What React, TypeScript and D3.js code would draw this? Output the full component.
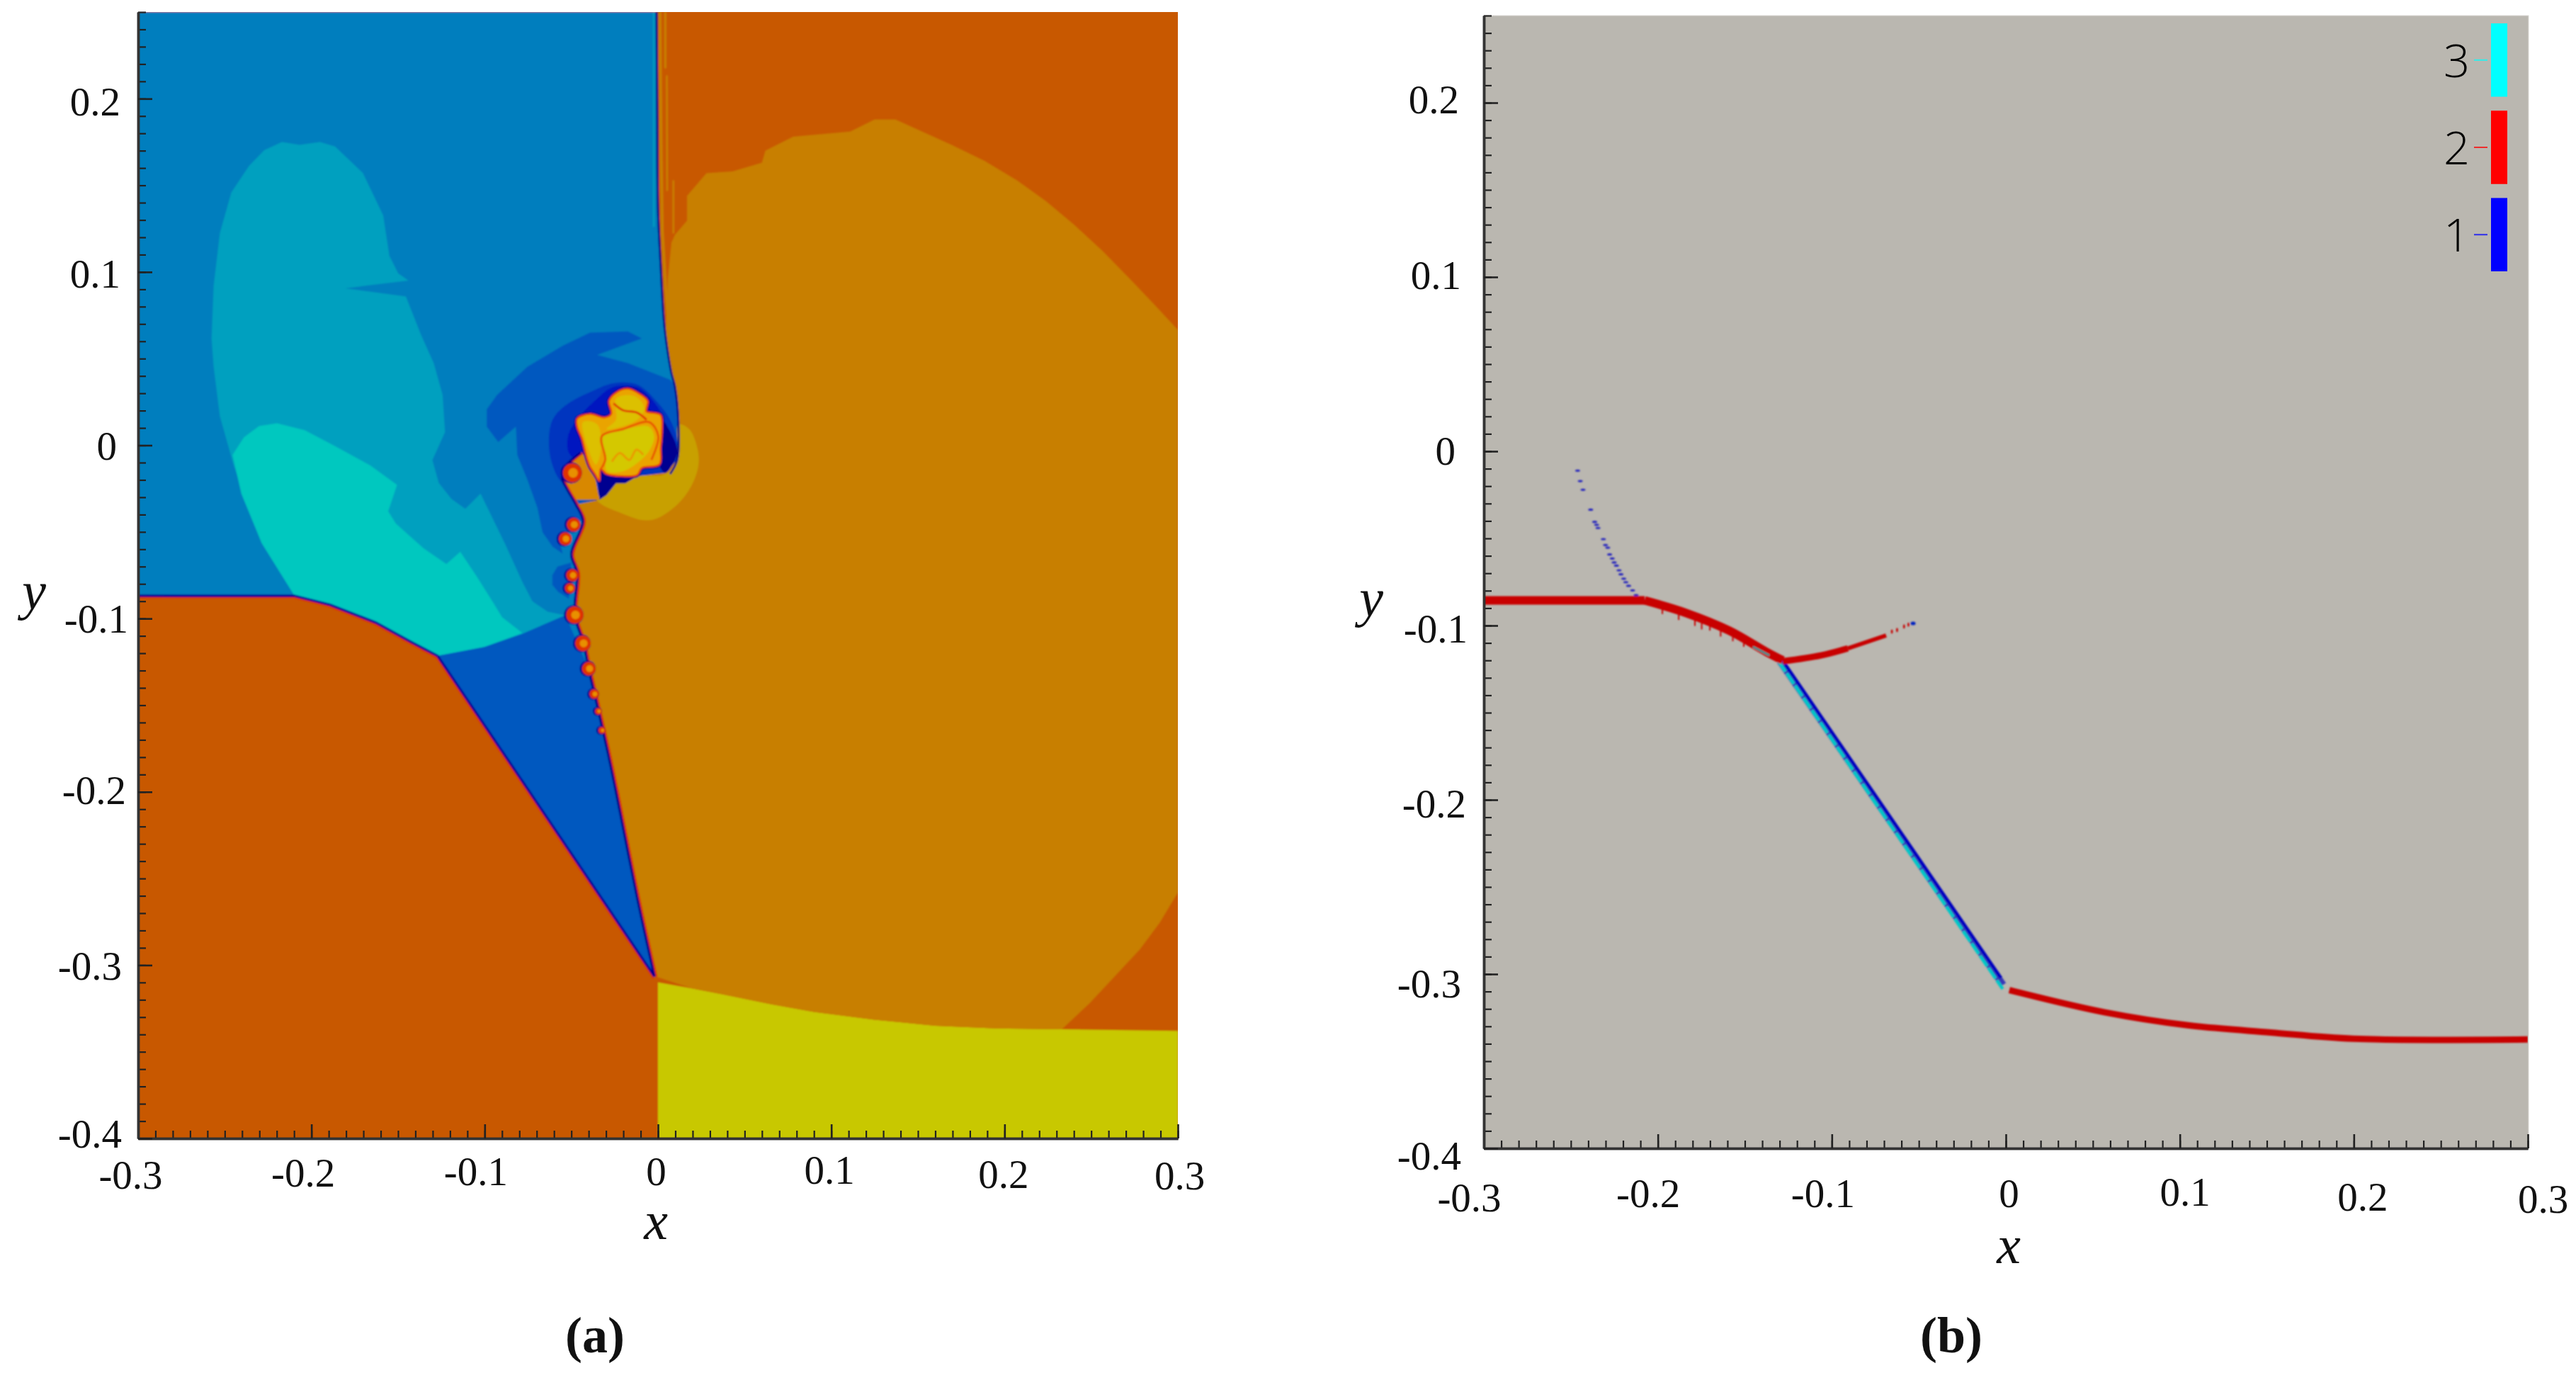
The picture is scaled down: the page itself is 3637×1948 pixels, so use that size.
// App.tsx - two panel shock interaction figure: (a) flow contours, (b) wave classification
import React, { useEffect, useRef } from 'react';
import * as d3 from 'd3';

type Pt = [number, number];

const xTicks = [-0.3, -0.2, -0.1, 0, 0.1, 0.2, 0.3];
const yTicks = [-0.4, -0.3, -0.2, -0.1, 0, 0.1, 0.2];
const xMinor = d3.range(-30, 31).map(d => d / 100);
const yMinor = d3.range(-40, 26).map(d => d / 100);

// panel (a) contour regions, in x/y data units
const shockLine: Pt[] = [[-0.0008, 0.25], [-0.0004, 0.19], [0, 0.137], [0.0016, 0.103], [0.0033, 0.0732], [0.0045, 0.062], [0.0077, 0.0419], [0.0098, 0.0338], [0.0118, 0.012], [0.0111, -0.0084], [0.007, -0.0166]];
const incidentCurve: Pt[] = [[-0.2097, -0.0869], [-0.1893, -0.092], [-0.163, -0.1022], [-0.1426, -0.1134], [-0.1272, -0.1215]];
const bowCurve: Pt[] = [[-0.1272, -0.1215], [-0.1002, -0.1164], [-0.0783, -0.1088], [-0.0535, -0.0981]];
const reflectedCurve: Pt[] = [[0, -0.31], [0.02, -0.3135], [0.043, -0.318], [0.065, -0.3225], [0.09, -0.327], [0.125, -0.3315], [0.16, -0.335], [0.195, -0.3365], [0.233, -0.337], [0.3, -0.338]];

const blueRegion: Pt[] = [[-0.3, 0.25], ...shockLine, [0, -0.2], [-0.3, -0.2]];
const tealRegion: Pt[] = [[-0.2576, 0.0615], [-0.2564, 0.092], [-0.2528, 0.1225], [-0.2462, 0.1459], [-0.236, 0.1612], [-0.2272, 0.1703], [-0.217, 0.175], [-0.2068, 0.1734], [-0.1951, 0.175], [-0.1864, 0.1724], [-0.1703, 0.1571], [-0.1586, 0.1327], [-0.155, 0.1093], [-0.1499, 0.0992], [-0.144, 0.0951], [-0.1805, 0.0906], [-0.1455, 0.0859], [-0.1367, 0.0636], [-0.1294, 0.0473], [-0.1243, 0.029], [-0.1229, 0.0076], [-0.1302, -0.0086], [-0.1265, -0.0218], [-0.1192, -0.031], [-0.1112, -0.0367], [-0.1024, -0.0279], [-0.0885, -0.0564], [-0.0783, -0.0788], [-0.0725, -0.09], [-0.0637, -0.0961], [-0.0535, -0.0981], [-0.0783, -0.1088], [-0.1002, -0.1164], [-0.1272, -0.1215], [-0.1426, -0.1134], [-0.163, -0.1022], [-0.1893, -0.092], [-0.2097, -0.0869], [-0.2287, -0.0564], [-0.2448, -0.0117], [-0.2528, 0.0168], [-0.2564, 0.0453]];
const cyanRegion: Pt[] = [[-0.2455, -0.0056], [-0.2389, 0.0046], [-0.2302, 0.0111], [-0.2199, 0.0127], [-0.2039, 0.0087], [-0.1864, -0.0005], [-0.1659, -0.0117], [-0.1506, -0.0229], [-0.1557, -0.0381], [-0.1513, -0.0452], [-0.1353, -0.0595], [-0.1221, -0.0686], [-0.1141, -0.0615], [-0.1046, -0.0757], [-0.0944, -0.092], [-0.09, -0.0992], [-0.0783, -0.1083], [-0.1002, -0.1164], [-0.1272, -0.1215], [-0.1426, -0.1134], [-0.163, -0.1022], [-0.1893, -0.092], [-0.2097, -0.0869], [-0.2287, -0.0564], [-0.2404, -0.028]];
const swirlRegion: Pt[] = [[-0.055, 0.0575], [-0.0392, 0.065], [-0.0174, 0.0657], [-0.0093, 0.0616], [-0.0351, 0.0521], [-0.0174, 0.0474], [0.007, 0.0378], [0.0104, 0.0338], [0.0118, 0.012], [0.0118, -0.0084], [0.007, -0.0166], [-0.0338, -0.0329], [-0.046, -0.0356], [-0.0433, -0.0424], [-0.0569, -0.0546], [-0.055, -0.0625], [-0.0608, -0.0585], [-0.0666, -0.0503], [-0.0696, -0.0361], [-0.0754, -0.0198], [-0.0812, -0.0056], [-0.082, 0.0107], [-0.0922, 0.0019], [-0.0988, 0.0107], [-0.0988, 0.0208], [-0.0929, 0.029], [-0.0754, 0.0453]];
const swirlLower: Pt[] = [[-0.061, -0.075], [-0.058, -0.07], [-0.05, -0.0676], [-0.0514, -0.0886], [-0.0576, -0.0846], [-0.061, -0.0805]];
const deepRing: Pt[] = [[-0.063, 0.0025], [-0.0608, 0.0147], [-0.0535, 0.0229], [-0.0363, 0.032], [-0.0256, 0.0358], [-0.012, 0.0351], [-0.001, 0.0256], [0.007, 0.0147], [0.0111, 0.0025], [0.0104, -0.0084], [0.0064, -0.0166], [-0.0324, -0.0329], [-0.055, -0.0218], [-0.0608, -0.0117]];
const haloRing: Pt[] = [[-0.0469, 0.0147], [-0.052, 0.0046], [-0.0513, -0.0045], [-0.0447, -0.0096], [-0.0412, -0.007], [-0.03, 0.005], [-0.0202, 0.02], [-0.0106, 0.02], [0.0016, 0.0174], [0.0016, 0.0188], [-0.0052, 0.0283], [-0.012, 0.0335], [-0.0256, 0.0337], [-0.036, 0.026]];
const wedgeRegion: Pt[] = [...bowCurve, [-0.04, -0.129], [-0.002, -0.3066], [-0.1, -0.2]];
const lowerLeft: Pt[] = [[-0.3, -0.0868], ...incidentCurve, [-0.002, -0.3066], [0, -0.31], [0, -0.4], [-0.3, -0.4]];
const yellowRegion: Pt[] = [...reflectedCurve, [0.3, -0.4], [0, -0.4]];
const amberRegion: Pt[] = [[0.0168, 0.1439], [0.028, 0.157], [0.043, 0.158], [0.06, 0.163], [0.062, 0.17], [0.078, 0.178], [0.111, 0.181], [0.125, 0.188], [0.137, 0.188], [0.17, 0.173], [0.1885, 0.164], [0.2072, 0.1528], [0.2236, 0.1411], [0.24, 0.1274], [0.2564, 0.1122], [0.2729, 0.0954], [0.2869, 0.0807], [0.3, 0.0665], [0.3, -0.258], [0.2895, -0.2755], [0.278, -0.291], [0.264, -0.306], [0.249, -0.322], [0.233, -0.337], [0.195, -0.3365], [0.16, -0.335], [0.125, -0.3315], [0.09, -0.327], [0.065, -0.3225], [0.043, -0.318], [0.02, -0.3135], [0, -0.307], [-0.002, -0.3066], [-0.012, -0.261], [-0.024, -0.201], [-0.029, -0.177], [-0.036, -0.146], [-0.04, -0.129], [-0.043, -0.114], [-0.048, -0.098], [-0.0467, -0.0737], [-0.0467, -0.0682], [-0.05, -0.0628], [-0.0433, -0.0438], [-0.0474, -0.0342], [-0.0338, -0.0315], [-0.012, -0.0179], [0.0043, -0.0159], [0.0111, -0.0084], [0.0118, 0.012], [0.0098, 0.0338], [0.0077, 0.0419], [0.0045, 0.065], [0.0057, 0.0965], [0.0078, 0.1169], [0.0098, 0.1214], [0.0168, 0.1296]];
const crescent: Pt[] = [[0.0118, 0.012], [0.018, 0.0093], [0.0227, -0.0016], [0.0234, -0.0111], [0.0193, -0.0234], [0.0111, -0.0342], [-0.0011, -0.0424], [-0.0093, -0.0431], [-0.0215, -0.039], [-0.0324, -0.0342], [-0.0351, -0.0315], [-0.0256, -0.022], [-0.012, -0.0179], [0.0043, -0.0166], [0.0111, -0.0084]];
const connector: Pt[] = [[-0.0446, -0.0043], [-0.0412, -0.007], [-0.0365, -0.0166], [-0.0338, -0.0315], [-0.0474, -0.0315], [-0.0528, -0.0247], [-0.0552, -0.0193], [-0.0535, -0.0125]];
const blobOuter: Pt[] = [[-0.0467, 0.0154], [-0.0392, 0.0181], [-0.031, 0.0161], [-0.027, 0.0181], [-0.0283, 0.0256], [-0.0242, 0.0304], [-0.0174, 0.0327], [-0.0106, 0.0297], [-0.0059, 0.0256], [-0.0066, 0.0195], [-0.0032, 0.0188], [0.0016, 0.0174], [0.0023, 0.0079], [0.0016, -0.0016], [0.0009, -0.0111], [-0.0093, -0.0132], [-0.012, -0.0172], [-0.0202, -0.0179], [-0.0297, -0.0166], [-0.0331, -0.0138], [-0.0338, -0.0206], [-0.0365, -0.0166], [-0.0392, -0.0125], [-0.0412, -0.007], [-0.044, 0.0038], [-0.0467, 0.0106]];
const blobCore: Pt[] = [[-0.0315, 0.0072], [-0.0202, 0.009], [-0.0056, 0.0108], [-0.0022, 0.0052], [-0.0052, -0.0035], [-0.011, -0.0095], [-0.0202, -0.015], [-0.0293, -0.015], [-0.0307, -0.007], [-0.0334, 0.0011]];
const blobTop: Pt[] = [[-0.0242, 0.027], [-0.0134, 0.0283], [-0.0079, 0.0215], [-0.012, 0.0147], [-0.0215, 0.0106], [-0.0297, 0.0093], [-0.0242, 0.0147]];
const blobLeft: Pt[] = [[-0.0433, 0.0134], [-0.035, 0.012], [-0.033, -0.003], [-0.0358, -0.0111], [-0.0399, -0.003]];
const darkPatch: Pt[] = [[-0.0338, -0.0315], [-0.0351, -0.0138], [-0.0297, -0.0166], [-0.012, -0.0179], [-0.0188, -0.022], [-0.0242, -0.022], [-0.0297, -0.0288]];
const darkCrescent: Pt[] = [[0.0016, 0.0161], [0.007, 0.008], [0.0111, -0.003], [0.0084, -0.0111], [0.0043, -0.0159], [0.0009, -0.0118], [0.0023, 0.0079]];
const blobSquiggle: Pt[] = [[-0.0331, -0.0138], [-0.0304, -0.0084], [-0.0324, 0.0052], [-0.0202, 0.0093], [-0.0052, 0.0134], [0.0002, 0.0052], [-0.0038, -0.0084]];
const blobSquiggle2: Pt[] = [[-0.0256, 0.0242], [-0.0202, 0.0202], [-0.012, 0.0188], [-0.0066, 0.0147]];
const blobSquiggle3: Pt[] = [[-0.0266, -0.0095], [-0.022, -0.0045], [-0.0165, -0.0085], [-0.0125, -0.0025], [-0.0085, -0.0055]];
const frontLine: Pt[] = [[-0.3, -0.0868], ...incidentCurve, [-0.002, -0.3066]];
const slipLine: Pt[] = [[-0.002, -0.3066], [-0.012, -0.261], [-0.024, -0.201], [-0.029, -0.177], [-0.036, -0.146], [-0.04, -0.129], [-0.043, -0.114], [-0.048, -0.098], [-0.0467, -0.0737], [-0.05, -0.0628], [-0.0433, -0.0438], [-0.0474, -0.0342], [-0.0528, -0.0247], [-0.0552, -0.0193], [-0.0535, -0.0125], [-0.0446, -0.0043]];
// thin amber and teal streaks beside the shock near the top edge
const amberStreakA: Pt[] = [[0.0011, 0.25], [0.0018, 0.1713], [0.0025, 0.1235], [0.0045, 0.0895], [0.0065, 0.065]];
const amberStreakB: Pt[] = [[0.0042, 0.25], [0.0042, 0.2175]];
const amberStreakC: Pt[] = [[0.0051, 0.2134], [0.0053, 0.1468]];
const amberStreakD: Pt[] = [[0.0089, 0.1529], [0.0089, 0.1222]];
const tealStreak: Pt[] = [[-0.0024, 0.25], [-0.0024, 0.126]];
const vortexX = [-0.0535, -0.0487, -0.0494, -0.0508, -0.048, -0.0433, -0.0399, -0.0368, -0.0344, -0.0324, -0.0494];
const vortexY = [-0.054, -0.0458, -0.075, -0.0825, -0.0979, -0.1143, -0.1289, -0.1435, -0.1535, -0.1645, -0.0159];
const vortexR = [0.0038, 0.004, 0.0036, 0.003, 0.005, 0.0045, 0.004, 0.0028, 0.002, 0.002, 0.0055];

// panel (b) classified wave fronts
const redFlat: Pt[] = [[-0.3, -0.0856], [-0.2076, -0.0856]];
const redCurve: Pt[] = [[-0.2076, -0.0856], [-0.184, -0.0927], [-0.159, -0.1029], [-0.1376, -0.1151], [-0.1282, -0.12]];
const redBranch: Pt[] = [[-0.1282, -0.1205], [-0.1062, -0.1171], [-0.0908, -0.1131]];
const redBranchThin: Pt[] = [[-0.0908, -0.1131], [-0.0688, -0.1057]];
const redLower: Pt[] = [[0.002, -0.3092], [0.0566, -0.3219], [0.1046, -0.3294], [0.1522, -0.3335], [0.1998, -0.3371], [0.3, -0.3375]];
const hazeFront: Pt[] = [[-0.1298, -0.1204], [-0.0016, -0.3062]];
const blueFront: Pt[] = [[-0.127, -0.122], [-0.0028, -0.3022]];
const cyanFront: Pt[] = [[-0.1308, -0.1204], [-0.0018, -0.3085]];
const cyanBits: Pt[] = [[-0.1453, -0.1122], [-0.1359, -0.1171]];
const dotX = [-0.2461, -0.2446, -0.243, -0.2386, -0.2363, -0.2352, -0.2344, -0.2313, -0.2301, -0.2288, -0.2277, -0.2262, -0.2251, -0.2238, -0.2223, -0.2212, -0.2196, -0.2184, -0.2168, -0.2145, -0.2125];
const dotY = [-0.0111, -0.0171, -0.0221, -0.0335, -0.0405, -0.0422, -0.044, -0.0504, -0.0538, -0.0553, -0.0592, -0.0615, -0.0638, -0.0656, -0.0683, -0.0706, -0.0731, -0.0751, -0.0772, -0.0798, -0.0826];
const fringeX = [-0.1974, -0.188, -0.1787, -0.1748, -0.1701, -0.1639, -0.1569, -0.1506];
const fringeY = [-0.0934, -0.0968, -0.1002, -0.1022, -0.1029, -0.1063, -0.109, -0.1122];
const endDotsX = [-0.0655, -0.0625, -0.0585, -0.056];
const endDotsY = [-0.1035, -0.1025, -0.1005, -0.0995];

const legendLabels = ['3', '2', '1'];
const legendColors = ['#00ffff', '#ff0000', '#0000ff'];

const SERIF = '"Liberation Serif", serif';

interface Nudge { dx: number[]; baseline: number[] }

interface AxisLayout {
  x: d3.ScaleLinear<number, number>;
  y: d3.ScaleLinear<number, number>;
  xLabels: Nudge;
  yRight: number[];
  yCentre: number[];
  xTitle: [number, number];
  yTitle: [number, number];
  caption: [number, string];
}

const drawAxes = (svg: any, a: AxisLayout) => {
  const [bottom] = a.y.range();
  const [left] = a.x.range();
  const style = (g: any, w: number) => {
    g.selectAll('line').attr('stroke', '#222').attr('stroke-width', w);
    g.select('.domain').attr('stroke', '#333').attr('stroke-width', 3.5);
  };

  const xMin = svg.append('g').attr('transform', `translate(0,${bottom})`)
    .call(d3.axisBottom(a.x).tickValues(xMinor).tickSize(-11).tickSizeOuter(0).tickFormat(() => ''));
  style(xMin, 2.2);
  const yMin = svg.append('g').attr('transform', `translate(${left},0)`)
    .call(d3.axisLeft(a.y).tickValues(yMinor).tickSize(-11).tickSizeOuter(0).tickFormat(() => ''));
  style(yMin, 2.2);

  const xMaj = svg.append('g').attr('transform', `translate(0,${bottom})`)
    .call(d3.axisBottom(a.x).tickValues(xTicks).tickSize(-20).tickSizeOuter(0).tickFormat((d: any) => String(d)));
  style(xMaj, 2.6);
  xMaj.selectAll('text')
    .attr('font-family', SERIF).attr('font-size', 57).attr('fill', '#111')
    .attr('text-anchor', 'middle').attr('dy', null)
    .attr('x', (_: any, i: number) => a.xLabels.dx[i])
    .attr('y', (_: any, i: number) => a.xLabels.baseline[i] - bottom);

  const yMaj = svg.append('g').attr('transform', `translate(${left},0)`)
    .call(d3.axisLeft(a.y).tickValues(yTicks).tickSize(-20).tickSizeOuter(0).tickFormat((d: any) => String(d)));
  style(yMaj, 2.6);
  yMaj.selectAll('text')
    .attr('font-family', SERIF).attr('font-size', 57).attr('fill', '#111')
    .attr('text-anchor', 'end').attr('dy', null)
    .attr('x', (_: any, i: number) => a.yRight[i] - left)
    .attr('y', (d: any, i: number) => a.yCentre[i] + 19 - a.y(d));

  svg.append('text').text('x').attr('x', a.xTitle[0]).attr('y', a.xTitle[1])
    .attr('font-family', SERIF).attr('font-style', 'italic').attr('font-size', 76).attr('text-anchor', 'middle').attr('fill', '#111');
  svg.append('text').text('y').attr('x', a.yTitle[0]).attr('y', a.yTitle[1])
    .attr('font-family', SERIF).attr('font-style', 'italic').attr('font-size', 76).attr('text-anchor', 'middle').attr('fill', '#111');
  svg.append('text').text(a.caption[1]).attr('x', a.caption[0]).attr('y', 1909)
    .attr('font-family', SERIF).attr('font-weight', 700).attr('font-size', 72).attr('text-anchor', 'middle').attr('fill', '#111');
};

const App: React.FC = () => {
  const svgRef = useRef<SVGSVGElement | null>(null);

  useEffect(() => {
    const svg = d3.select(svgRef.current);
    svg.selectAll('*').remove();

    const defs = svg.append('defs');
    defs.append('filter').attr('id', 'soft').attr('x', '-2%').attr('y', '-2%').attr('width', '104%').attr('height', '104%')
      .append('feGaussianBlur').attr('stdDeviation', 1.2);

    // panel (a)
    const ax = d3.scaleLinear().domain([-0.3, 0.3]).range([195, 1663]);
    const ay = d3.scaleLinear().domain([-0.4, 0.25]).range([1607, 17]);
    defs.append('clipPath').attr('id', 'clipA').append('rect')
      .attr('x', 195).attr('y', 17).attr('width', 1468).attr('height', 1590);

    const aLine = d3.line<Pt>().x(d => ax(d[0])).y(d => ay(d[1]));
    const aClosed = d3.line<Pt>().x(d => ax(d[0])).y(d => ay(d[1])).curve(d3.curveLinearClosed);
    const aSmooth = d3.line<Pt>().x(d => ax(d[0])).y(d => ay(d[1])).curve(d3.curveCatmullRomClosed);
    const aOpen = d3.line<Pt>().x(d => ax(d[0])).y(d => ay(d[1])).curve(d3.curveCatmullRom);
    const pa = svg.append('g').attr('clip-path', 'url(#clipA)').append('g').attr('filter', 'url(#soft)');

    pa.append('rect').attr('x', 190).attr('y', 10).attr('width', 1480).attr('height', 1605).attr('fill', '#c85800');
    const fillA = (pts: Pt[], color: string, gen: any = aClosed) => pa.append('path').attr('d', gen(pts)).attr('fill', color);
    fillA(blueRegion, '#007ebe');
    fillA(tealRegion, '#00a0bf');
    fillA(cyanRegion, '#00c8bf');
    fillA(swirlRegion, '#0058bf');
    fillA(swirlLower, '#0058bf');
    fillA(deepRing, '#0034bf', aSmooth);
    fillA(wedgeRegion, '#0058bf');
    fillA(lowerLeft, '#c85800');
    fillA(yellowRegion, '#c8c800');
    fillA(amberRegion, '#c87f00');
    fillA(crescent, '#c8a000', aSmooth);
    fillA(haloRing, '#0014c0', aSmooth);
    fillA(connector, '#d88800');
    fillA(darkPatch, '#000090');
    fillA(darkCrescent, '#000090', aSmooth);

    // interfaces: dark core, red edge on the burnt side
    const strokeA = (pts: Pt[], color: string, w: number, gen: any = aLine, shift = '') =>
      pa.append('path').attr('d', gen(pts)).attr('fill', 'none').attr('stroke', color).attr('stroke-width', w)
        .attr('stroke-linejoin', 'round').attr('transform', shift);
    strokeA(frontLine, '#e02800', 2, aLine, 'translate(-1.5,2.5)');
    strokeA(frontLine, '#00009a', 3.5);
    strokeA(slipLine, '#e02800', 2.5, aOpen, 'translate(3,0.5)');
    strokeA(slipLine, '#000088', 3.5, aOpen);
    strokeA(tealStreak, '#0098c0', 3);
    strokeA(amberStreakA, '#c87f00', 4);
    strokeA(amberStreakB, '#c87f00', 3);
    strokeA(amberStreakC, '#c87f00', 2.5);
    strokeA(amberStreakD, '#c87f00', 2.5);
    strokeA(shockLine, '#000088', 3, aOpen);

    // roll-ups along the slip line
    vortexX.forEach((vx, i) => {
      const r = ax(vortexR[i]) - ax(0);
      pa.append('circle').attr('cx', ax(vx) - 1.5).attr('cy', ay(vortexY[i])).attr('r', r + 1.5).attr('fill', '#000090');
      pa.append('circle').attr('cx', ax(vx)).attr('cy', ay(vortexY[i])).attr('r', r).attr('fill', '#e03000');
      pa.append('circle').attr('cx', ax(vx) + 1).attr('cy', ay(vortexY[i])).attr('r', r * 0.5).attr('fill', '#e89000');
    });

    // core of the roll-up
    pa.append('path').attr('d', aSmooth(blobOuter)).attr('fill', 'none').attr('stroke', '#000090').attr('stroke-width', 6);
    pa.append('path').attr('d', aSmooth(blobOuter)).attr('fill', '#eaa400')
      .attr('stroke', '#e83800').attr('stroke-width', 2.5);
    fillA(blobCore, '#d4c800', aSmooth);
    fillA(blobTop, '#dcc000', aSmooth);
    fillA(blobLeft, '#dcc000', aSmooth);
    strokeA(blobSquiggle, '#e85800', 3, aOpen);
    strokeA(blobSquiggle2, '#e04000', 3, aOpen);
    strokeA(blobSquiggle3, '#ea9800', 3, aOpen);

    // panel (b)
    const bx = d3.scaleLinear().domain([-0.3, 0.3]).range([2095, 3569]);
    const by = d3.scaleLinear().domain([-0.4, 0.25]).range([1621, 22]);
    defs.append('clipPath').attr('id', 'clipB').append('rect')
      .attr('x', 2095).attr('y', 22).attr('width', 1474).attr('height', 1599);
    svg.append('rect').attr('x', 2095).attr('y', 22).attr('width', 1475).attr('height', 1599)
      .attr('fill', '#bab7b0').attr('stroke', '#dcdad6').attr('stroke-width', 1);

    const bLine = d3.line<Pt>().x(d => bx(d[0])).y(d => by(d[1])).curve(d3.curveCatmullRom);
    const pb = svg.append('g').attr('clip-path', 'url(#clipB)').append('g').attr('filter', 'url(#soft)');
    const strokeB = (pts: Pt[], color: string, w: number) =>
      pb.append('path').attr('d', bLine(pts)).attr('fill', 'none').attr('stroke', color).attr('stroke-width', w);

    strokeB(hazeFront, '#3838b8', 10);
    strokeB(blueFront, '#0000c0', 4.5);
    strokeB(cyanFront, '#00c8c8', 4.5).attr('stroke-dasharray', '18 3');
    strokeB(redFlat, '#c80000', 12);
    strokeB(redCurve, '#c80000', 12);
    strokeB(redBranch, '#c80000', 9);
    strokeB(redBranchThin, '#c80000', 6);
    strokeB(redLower, '#c80000', 9);
    strokeB(cyanBits, '#00a0a0', 2.5);

    fringeX.forEach((fx, i) => {
      pb.append('line').attr('x1', bx(fx)).attr('x2', bx(fx)).attr('y1', by(fringeY[i] + 0.004)).attr('y2', by(fringeY[i]))
        .attr('stroke', '#c80000').attr('stroke-width', 2);
    });
    dotX.forEach((dx, i) => {
      pb.append('ellipse').attr('cx', bx(dx)).attr('cy', by(dotY[i])).attr('rx', 3.5).attr('ry', 1.6).attr('fill', '#0000c0').attr('opacity', 0.8);
    });
    endDotsX.forEach((dx, i) => {
      pb.append('ellipse').attr('cx', bx(dx)).attr('cy', by(endDotsY[i])).attr('rx', 1.4).attr('ry', 3).attr('fill', '#c80000');
    });
    pb.append('ellipse').attr('cx', bx(-0.0533)).attr('cy', by(-0.0988)).attr('rx', 3.5).attr('ry', 2.5).attr('fill', '#0020c0');

    // legend
    const band = d3.scaleBand<string>().domain(legendLabels).range([33, 383]).paddingInner(0.16);
    const legend = svg.append('g');
    legendLabels.forEach((l, i) => {
      const top = band(l) as number;
      const mid = top + band.bandwidth() / 2;
      legend.append('rect').attr('x', 3517).attr('y', top).attr('width', 23).attr('height', band.bandwidth()).attr('fill', legendColors[i]);
      legend.append('line').attr('x1', 3493).attr('x2', 3512).attr('y1', mid).attr('y2', mid)
        .attr('stroke', legendColors[i]).attr('stroke-width', 2).attr('opacity', 0.75);
      legend.append('text').text(l).attr('x', 3487).attr('y', mid + 24)
        .attr('font-family', '"Open Sans", sans-serif').attr('font-weight', 300).attr('font-size', 65)
        .attr('text-anchor', 'end').attr('fill', '#000');
    });

    drawAxes(svg, {
      x: ax, y: ay,
      xLabels: { dx: [-11, -12, -13, -3, -3, -2, 2], baseline: [1678, 1675, 1673, 1673, 1671, 1677, 1679] },
      yRight: [172, 172, 178, 181, 165, 170, 170],
      yCentre: [1600, 1363, 1115, 873, 629, 386, 143],
      xTitle: [926, 1749],
      yTitle: [48, 860],
      caption: [840, '(a)'],
    });
    drawAxes(svg, {
      x: bx, y: by,
      xLabels: { dx: [-21, -14, -13, 4, 7, 12, 21], baseline: [1710, 1704, 1704, 1704, 1702, 1709, 1712] },
      yRight: [2063, 2063, 2070, 2072, 2055, 2063, 2060],
      yCentre: [1631, 1388, 1134, 887, 636, 388, 140],
      xTitle: [2836, 1783],
      yTitle: [1936, 870],
      caption: [2755, '(b)'],
    });
  }, []);

  return (
    <svg
      ref={svgRef}
      width={3637}
      height={1948}
      style={{ position: 'absolute', left: 0, top: 0, display: 'block', background: '#fff' }}
    />
  );
};

export default App;
